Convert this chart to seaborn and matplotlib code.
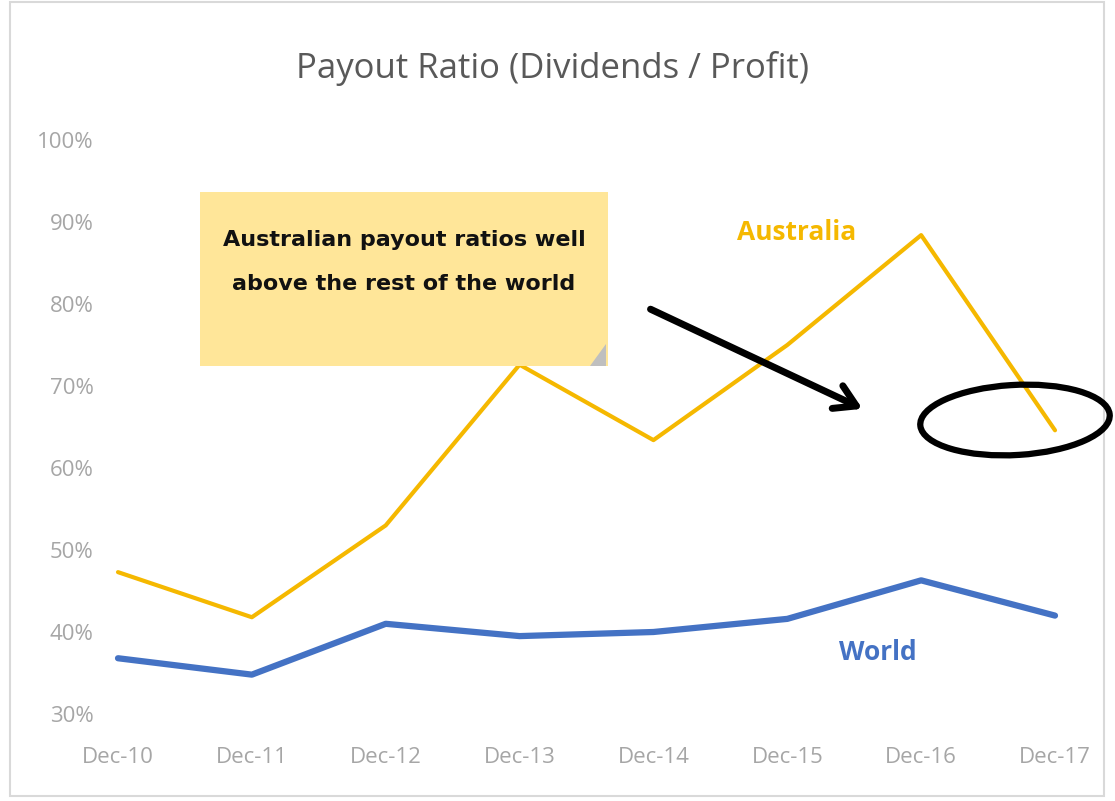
import matplotlib
matplotlib.use("Agg")
import matplotlib.pyplot as plt
import seaborn as sns
import pandas as pd
from matplotlib.patches import Rectangle, Ellipse, FancyArrowPatch, Polygon

periods = ["Dec-10", "Dec-11", "Dec-12", "Dec-13", "Dec-14", "Dec-15", "Dec-16", "Dec-17"]
australia = [47.3, 41.8, 53.0, 72.6, 63.4, 75.0, 88.4, 64.6]
world = [36.8, 34.8, 41.0, 39.5, 40.0, 41.6, 46.3, 42.0]
y_ticks = [30, 40, 50, 60, 70, 80, 90, 100]
y_tick_labels = ["30%", "40%", "50%", "60%", "70%", "80%", "90%", "100%"]

sns.set_style("white")
plt.rcParams['font.family'] = ['Open Sans', 'DejaVu Sans']

W, H = 1115, 801
fig = plt.figure(figsize=(W / 100, H / 100), dpi=100)

def fx(px):
    return px / W

def fy(py):
    return 1 - py / H

left, right, top, bottom = 70, 1100, 140, 714
ax = fig.add_axes([fx(left), fy(bottom), fx(right) - fx(left), fy(top) - fy(bottom)])

df = pd.DataFrame({"x": list(range(len(periods))) * 2,
                   "value": australia + world,
                   "series": ["Australia"] * len(periods) + ["World"] * len(periods)})
aus_color = "#F5B800"
world_color = "#4472C4"
sns.lineplot(data=df[df.series == "Australia"], x="x", y="value", color=aus_color, lw=3.0, ax=ax, legend=False)
sns.lineplot(data=df[df.series == "World"], x="x", y="value", color=world_color, lw=4.5, ax=ax, legend=False)

ax.set_xlim(-(118 - left) / 133.86, 7 + (right - 1055) / 133.86)
ax.set_ylim(30, 100)
ax.set_xticks(range(len(periods)))
ax.set_xticklabels(periods)
ax.set_yticks(y_ticks)
ax.set_yticklabels(y_tick_labels)
ax.tick_params(axis='both', colors='#A6A6A6', length=0)
ax.tick_params(axis='x', pad=24)
ax.tick_params(axis='y', pad=-17)
for lab in ax.get_yticklabels() + ax.get_xticklabels():
    lab.set_fontsize(16)
for lab in ax.get_yticklabels():
    lab.set_horizontalalignment('right')
for s in ax.spines.values():
    s.set_visible(False)
ax.set_xlabel("")
ax.set_ylabel("")
ax.grid(False)
ax.patch.set_alpha(0)

# chart border
fig.patches.append(Rectangle((fx(10), fy(796)), fx(1104) - fx(10), fy(2) - fy(796),
                             transform=fig.transFigure, fill=False, edgecolor="#D9D9D9", lw=1.5))

fig.text(fx(552), fy(68), "Payout Ratio (Dividends / Profit)", ha="center", va="center",
         fontsize=25, color="#595959")

# series labels
fig.text(fx(797), fy(233), "Australia", ha="center", va="center", fontsize=19,
         fontweight="bold", color=aus_color)
fig.text(fx(878), fy(652), "World", ha="center", va="center", fontsize=19,
         fontweight="bold", color=world_color)

# sticky note
fig.patches.append(Rectangle((fx(200), fy(366)), fx(608) - fx(200), fy(192) - fy(366),
                             transform=fig.transFigure, facecolor="#FFE699", edgecolor="none", zorder=5))
fig.patches.append(Polygon([[fx(590), fy(366)], [fx(606), fy(344)], [fx(606), fy(366)]], closed=True,
                           transform=fig.transFigure, facecolor="#BFBFBF", edgecolor="none", zorder=6))
fig.text(fx(404), fy(262), "Australian payout ratios well\nabove the rest of the world", ha="center", va="center",
         fontsize=16, fontweight="bold", color="#111111", linespacing=2.5, zorder=7,
         family=["DejaVu Sans"])

# arrow
arrow = FancyArrowPatch((fx(648), fy(308)), (fx(865), fy(410)), transform=fig.transFigure,
                        arrowstyle="->,head_length=10,head_width=6", mutation_scale=1.5,
                        color="black", lw=5, zorder=8, capstyle="round")
fig.patches.append(arrow)

# ellipse
fig.patches.append(Ellipse((fx(1015), fy(420)), fx(190), 70 / H, angle=5,
                           transform=fig.transFigure, fill=False, edgecolor="black", lw=4.5, zorder=8))

fig.savefig("out.png", dpi=100)
